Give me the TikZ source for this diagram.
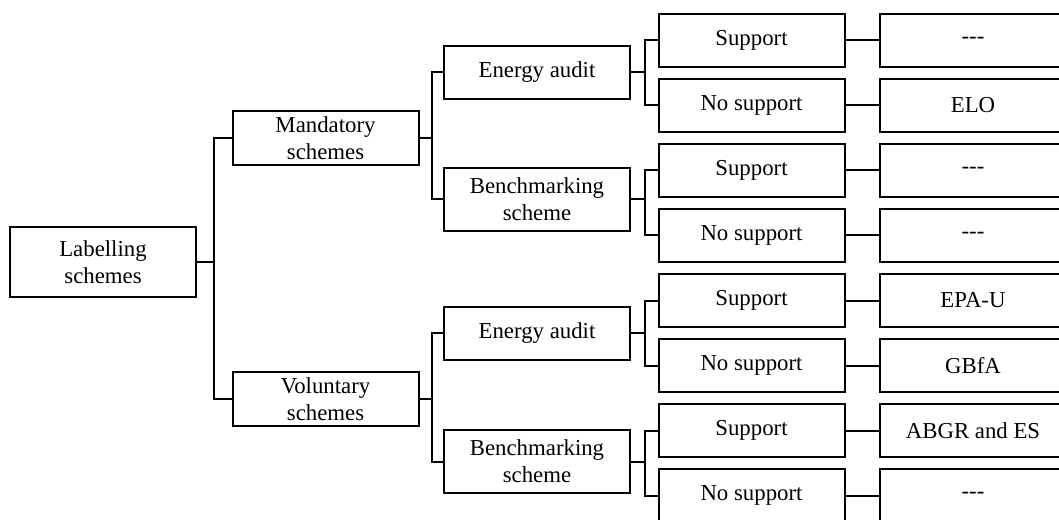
\documentclass[tikz,border=0pt]{standalone}
\usepackage{fontspec}
\setmainfont{Liberation Serif}
% three separate hyphens, kept apart from the TeX dash ligatures
\newcommand\nodash{\mbox{-}\mbox{-}\mbox{-}}
\begin{document}
\begin{tikzpicture}[x=0.75pt,y=-0.75pt,
  bx/.style={draw, line width=1.5pt, inner sep=0pt, align=center,
    minimum width=139.5pt, minimum height=39.75pt,
    font=\fontsize{17.1}{20.3}\selectfont},
  link/.style={line width=1.5pt}]
\useasboundingbox (0,0) rectangle (1059,520);

% root and first level
\node[bx, minimum height=52.5pt] (lab) at (103,262) {Labelling\\schemes};
\node[bx, minimum height=40.5pt] (man) at (325.5,138) {Mandatory\\schemes};
\node[bx, minimum height=40.5pt] (vol) at (325.5,399) {Voluntary\\schemes};

% second level
\node[bx] (ea1) at (537,72.5) {Energy audit};
\node[bx, minimum height=47.25pt] (bm1) at (537,199.5) {Benchmarking\\scheme};
\node[bx] (ea2) at (537,333) {Energy audit};
\node[bx, minimum height=47.25pt] (bm2) at (537,461.5) {Benchmarking\\scheme};

% support column
\node[bx] (s1) at (751.5,40.5)  {Support};
\node[bx] (s2) at (751.5,105.5) {No support};
\node[bx] (s3) at (751.5,170.5) {Support};
\node[bx] (s4) at (751.5,235.5) {No support};
\node[bx] (s5) at (751.5,300.5) {Support};
\node[bx] (s6) at (751.5,365.5) {No support};
\node[bx] (s7) at (751.5,430.5) {Support};
\node[bx] (s8) at (751.5,495.5) {No support};

% scheme column
\node[bx] (r1) at (973,40.5)  {\nodash};
\node[bx] (r2) at (973,105.5) {ELO};
\node[bx] (r3) at (973,170.5) {\nodash};
\node[bx] (r4) at (973,235.5) {\nodash};
\node[bx] (r5) at (973,300.5) {EPA-U};
\node[bx] (r6) at (973,365.5) {GBfA};
\node[bx] (r7) at (973,430.5) {ABGR and ES};
\node[bx] (r8) at (973,495.5) {\nodash};

% tree connectors
\draw[link] (lab.east) -- ++(17,0) |- (man.west);
\draw[link] (lab.east) -- ++(17,0) |- (vol.west);

\draw[link] (man.east) -- ++(12,0) |- (ea1.west);
\draw[link] (man.east) -- ++(12,0) |- (bm1.west);
\draw[link] (vol.east) -- ++(12,0) |- (ea2.west);
\draw[link] (vol.east) -- ++(12,0) |- (bm2.west);

\draw[link] (ea1.east) -- ++(14,0) |- (s1.west);
\draw[link] (ea1.east) -- ++(14,0) |- (s2.west);
\draw[link] (bm1.east) -- ++(14,0) |- (s3.west);
\draw[link] (bm1.east) -- ++(14,0) |- (s4.west);
\draw[link] (ea2.east) -- ++(14,0) |- (s5.west);
\draw[link] (ea2.east) -- ++(14,0) |- (s6.west);
\draw[link] (bm2.east) -- ++(14,0) |- (s7.west);
\draw[link] (bm2.east) -- ++(14,0) |- (s8.west);

\foreach \k in {1,...,8}
  \draw[link] (s\k.east) -- (r\k.west);
\end{tikzpicture}
\end{document}
